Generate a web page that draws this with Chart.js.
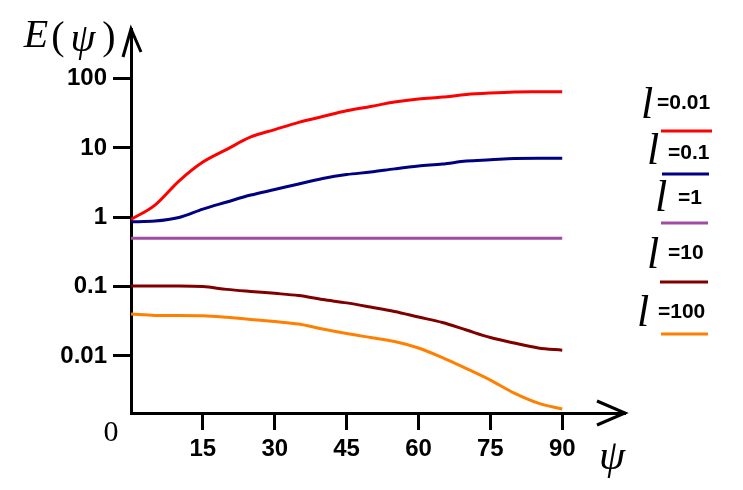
<!DOCTYPE html>
<html><head><meta charset="utf-8">
<script src="https://cdn.jsdelivr.net/npm/chart.js@4"></script>
<style>html,body{margin:0;padding:0;background:#fff;overflow:hidden}</style>
</head><body>
<canvas id="c" width="743" height="490"></canvas>
<script>
// ---- data ----
const psi = [0,5,10,15,20,25,30,35,40,45,50,55,60,65,70,75,80,85,90];
const E_l001 = [0.93,1.50,3.33,6.26,9.55,14.4,18.4,23.4,28.4,34.3,39.6,45.9,50.8,54.2,59.0,62.0,64.1,64.5,64.7];
const E_l01  = [0.86,0.88,0.99,1.31,1.66,2.09,2.51,3.02,3.62,4.13,4.49,4.99,5.48,5.86,6.47,6.73,7.03,7.08,7.08];
const E_l1   = [0.50,0.50,0.50,0.50,0.50,0.50,0.50,0.50,0.50,0.50,0.50,0.50,0.50,0.50,0.50,0.50,0.50,0.50,0.50];
const E_l10  = [0.102,0.102,0.102,0.100,0.0911,0.0850,0.0798,0.0741,0.0649,0.0582,0.0506,0.0436,0.0363,0.0303,0.0236,0.0184,0.0153,0.0130,0.0121];
const E_l100 = [0.0401,0.0384,0.0384,0.0380,0.0360,0.0336,0.0313,0.0288,0.0244,0.0210,0.0184,0.0161,0.0130,0.00945,0.00656,0.00448,0.00290,0.00208,0.00171];
const seriesLabels = ['=0.01','=0.1','=1','=10','=100'];
const seriesColors = ['#ff0000','#000080','#a04ca4','#800000','#ff8000'];
const yTickValues = [0.01,0.1,1,10,100];
const yTickLabels = ['0.01','0.1','1','10','100'];
const xTickValues = [15,30,45,60,75,90];

const allSeries = [E_l001,E_l01,E_l1,E_l10,E_l100];
const datasets = allSeries.map((arr,i)=>({
  label: 'l'+seriesLabels[i],
  data: psi.map((p,j)=>({x:p,y:arr[j]})),
  borderColor: seriesColors[i],
  borderWidth: 3,
  pointRadius: 0,
  fill: false,
  cubicInterpolationMode: 'monotone'
}));

const decor = {
  id:'decor',
  afterDraw(chart){
    const ctx = chart.ctx, a = chart.chartArea;
    ctx.save();
    ctx.strokeStyle='#000'; ctx.lineWidth=3; ctx.lineCap='butt';
    // y arrow
    ctx.beginPath(); ctx.moveTo(a.left-8,a.top+28); ctx.lineTo(a.left,a.top); ctx.lineTo(a.left+10,a.top+23); ctx.stroke();
    // x arrow
    ctx.beginPath(); ctx.moveTo(a.right-28,a.bottom-12); ctx.lineTo(a.right,a.bottom); ctx.lineTo(a.right-28,a.bottom+12); ctx.stroke();
    ctx.fillStyle='#000';
    ctx.textAlign='center'; ctx.textBaseline='middle';
    // y-axis title E(psi)
    ctx.font='italic 40px "Liberation Serif"';
    ctx.fillText('E',36,36);
    ctx.fillText('\u03C8',83,40);
    ctx.font='40px "Liberation Serif"';
    ctx.fillText('(',58,38);
    ctx.fillText(')',109,38);
    ctx.font='30px "Liberation Serif"';
    ctx.fillText('0',111,433);
    ctx.font='italic 42px "Liberation Serif"';
    ctx.fillText('\u03C8',612,458);
    // legend
    const L = [
      {lx:647,ly:118,tx:657,ty:103,y:131,x1:661,x2:712},
      {lx:653,ly:164,tx:668,ty:153,y:174,x1:662,x2:709},
      {lx:661,ly:211,tx:678,ty:198,y:223,x1:661,x2:708},
      {lx:653,ly:268,tx:668,ty:253,y:282,x1:660,x2:708},
      {lx:643,ly:326,tx:658,ty:312,y:334,x1:661,x2:708}
    ];
    chart.data.datasets.forEach((d,i)=>{
      const p=L[i];
      ctx.fillStyle='#000';
      ctx.font='italic 44px "Liberation Serif"';
      ctx.textAlign='center'; ctx.textBaseline='alphabetic';
      ctx.fillText('l',p.lx,p.ly);
      ctx.font='bold 21px "Liberation Sans"';
      ctx.textAlign='left'; ctx.textBaseline='middle';
      ctx.fillText(seriesLabels[i],p.tx,p.ty);
      ctx.strokeStyle=d.borderColor; ctx.lineWidth=3;
      ctx.beginPath(); ctx.moveTo(p.x1,p.y); ctx.lineTo(p.x2,p.y); ctx.stroke();
    });
    ctx.restore();
  }
};

new Chart(document.getElementById('c'),{
  type:'line',
  data:{datasets},
  options:{
    responsive:false, animation:false, devicePixelRatio:1,
    layout:{padding:{left:0,top:29,right:118,bottom:0}},
    plugins:{legend:{display:false},tooltip:{enabled:false}},
    scales:{
      x:{type:'linear',min:0,max:103.1,
        afterBuildTicks:s=>{s.ticks=xTickValues.map(v=>({value:v}));},
        afterFit:s=>{s.height=77;},
        grid:{drawOnChartArea:false,drawTicks:true,tickLength:17,tickWidth:3,tickColor:'#000'},
        border:{display:true,color:'#000',width:3},
        ticks:{color:'#000',font:{family:'Liberation Sans',size:24,weight:'bold'},padding:5,maxRotation:0,autoSkip:false}
      },
      y:{type:'logarithmic',min:0.0015,max:520,
        afterBuildTicks:s=>{s.ticks=yTickValues.map(v=>({value:v}));},
        afterFit:s=>{s.width=131;},
        grid:{drawOnChartArea:false,drawTicks:true,tickLength:18,tickWidth:3,tickColor:'#000'},
        border:{display:true,color:'#000',width:3},
        ticks:{color:'#000',font:{family:'Liberation Sans',size:24,weight:'bold'},padding:6,autoSkip:false,
          callback:(v)=>{const k=yTickValues.indexOf(v);return k>=0?yTickLabels[k]:'';}}
      }
    }
  },
  plugins:[decor]
});
</script>
</body></html>
